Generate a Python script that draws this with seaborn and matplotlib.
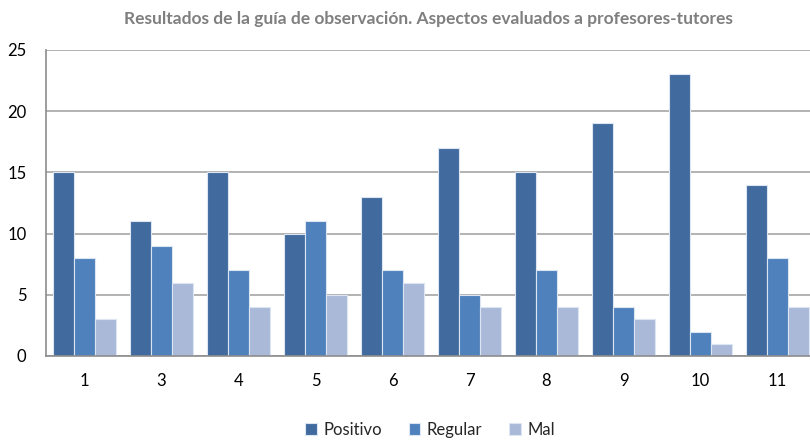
import pandas as pd
import matplotlib.pyplot as plt
import seaborn as sns

categorias = ["1", "3", "4", "5", "6", "7", "8", "9", "10", "11"]
positivo = [15, 11, 15, 10, 13, 17, 15, 19, 23, 14]
regular = [8, 9, 7, 11, 7, 5, 7, 4, 2, 8]
mal = [3, 6, 4, 5, 6, 4, 4, 3, 1, 4]
series = ["Positivo", "Regular", "Mal"]
colores = ["#416B9E", "#4F81BD", "#AAB9D8"]

df = pd.DataFrame({"Aspecto": categorias, "Positivo": positivo,
                   "Regular": regular, "Mal": mal})
df = df.melt(id_vars="Aspecto", var_name="Serie", value_name="Valor")

sns.set_style("white")
plt.rcParams['font.family'] = ['Lato', 'DejaVu Sans']

fig = plt.figure(figsize=(8.1, 4.41), dpi=100)
ax = fig.add_axes([46 / 810, 1 - 356 / 441, 770 / 810, 306 / 441])

sns.barplot(data=df, x="Aspecto", y="Valor", hue="Serie", order=categorias,
            hue_order=series, palette=colores, width=0.82, saturation=1,
            edgecolor="#DCE6F2", linewidth=0.8, ax=ax)

ax.set_ylim(0, 25)
ax.set_yticks([0, 5, 10, 15, 20, 25])
ax.yaxis.grid(True, color="#A6A6A6", linewidth=1.2)
ax.set_axisbelow(True)
for s in ["top", "right"]:
    ax.spines[s].set_visible(False)
for s in ["left", "bottom"]:
    ax.spines[s].set_color("#8C8C8C")
    ax.spines[s].set_linewidth(1.2)
ax.tick_params(axis="both", length=0, labelsize=12, colors="black")
ax.tick_params(axis="y", pad=14)
ax.tick_params(axis="x", pad=12)
ax.set_xlabel("")
ax.set_ylabel("")

fig.suptitle("Resultados de la guía de observación. Aspectos evaluados a profesores-tutores",
             x=428 / 810, y=0.975, fontsize=12.5, fontweight="bold", color="#7F7F7F")

ax.legend(loc="center", bbox_to_anchor=(430 / 810, 11 / 441),
          bbox_transform=fig.transFigure, ncol=3, frameon=False,
          fontsize=12, handlelength=0.7, handleheight=0.7,
          handletextpad=0.4, columnspacing=1.6)

plt.savefig("out.png", dpi=100)
